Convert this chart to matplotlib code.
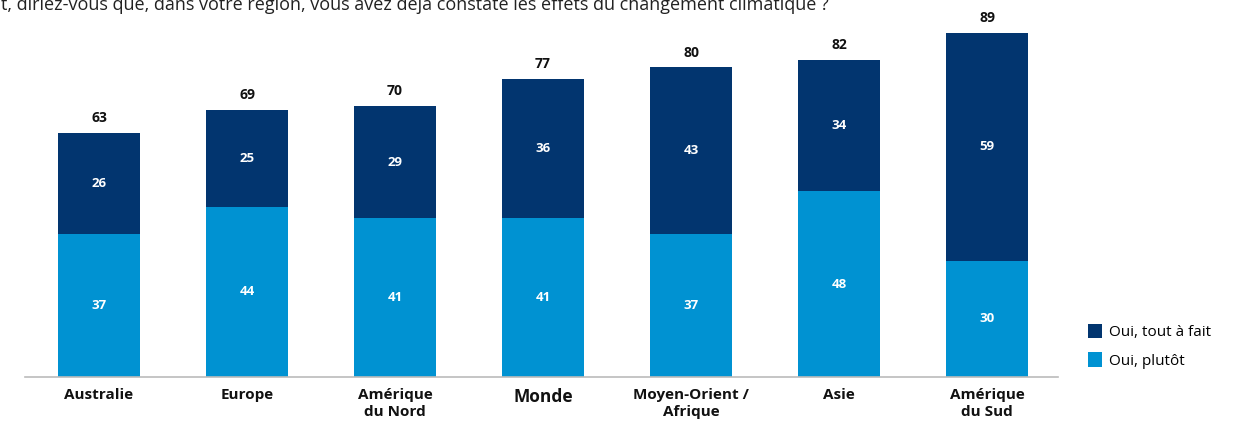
import matplotlib.pyplot as plt
import numpy as np

regions = ["Australie", "Europe", "Amérique\ndu Nord", "Monde",
           "Moyen-Orient /\nAfrique", "Asie", "Amérique\ndu Sud"]
plutot = [37, 44, 41, 41, 37, 48, 30]
tout_a_fait = [26, 25, 29, 36, 43, 34, 59]
totals = [63, 69, 70, 77, 80, 82, 89]

dark = "#02356f"
light = "#0092d2"
font = "Open Sans"

fig = plt.figure(figsize=(12.59, 4.21), dpi=100)
# axes in pixel terms: x 25..1058, baseline at y=377, top at y=0
W, H = 1259, 421
ax = fig.add_axes([25 / W, (H - 377) / H, (1058 - 25) / W, 377 / H])

x = np.arange(len(regions))
px_per_unit = 148
ax.set_xlim(-74 / px_per_unit, (1058 - 99) / px_per_unit)
ax.set_ylim(0, 377 / 3.87)

ax.bar(x, plutot, width=0.555, color=light, label="Oui, plutôt")
ax.bar(x, tout_a_fait, width=0.555, bottom=plutot, color=dark, label="Oui, tout à fait")

for i in range(len(regions)):
    ax.text(x[i], plutot[i] / 2, str(plutot[i]), ha="center", va="center",
            color="white", fontsize=9.5, fontweight="bold", family=font)
    ax.text(x[i], plutot[i] + tout_a_fait[i] / 2, str(tout_a_fait[i]), ha="center",
            va="center", color="white", fontsize=9.5, fontweight="bold", family=font)
    ax.text(x[i], totals[i] + 2.0, str(totals[i]), ha="center", va="bottom",
            color="#111111", fontsize=10, fontweight="bold", family=font)

for s in ["top", "right", "left"]:
    ax.spines[s].set_visible(False)
ax.spines["bottom"].set_color("#bbbbbb")
ax.spines["bottom"].set_linewidth(1.2)
ax.set_yticks([])
ax.set_xticks(x)
ax.set_xticklabels(regions, family=font, fontsize=11, fontweight="bold",
                   linespacing=1.3, va="top")
ax.tick_params(axis="x", length=0, pad=8, colors="#111111")
for lbl in ax.get_xticklabels():
    if lbl.get_text() == "Monde":
        lbl.set_fontsize(12.5)

handles, labels = ax.get_legend_handles_labels()
fig.legend(handles[::-1], labels[::-1], loc="upper left",
           bbox_to_anchor=(1074 / W, 1 - 310 / H), frameon=False,
           prop={"family": font, "size": 11}, handlelength=0.9, handleheight=1.1,
           handletextpad=0.5, labelspacing=0.8)

fig.text(-10 / W, 1 - 10 / H,
         "nt, diriez-vous que, dans votre région, vous avez déjà constaté les effets du changement climatique ?",
         ha="left", va="baseline", fontsize=13, family=font, color="#222222")

fig.savefig("out.png", dpi=100)
